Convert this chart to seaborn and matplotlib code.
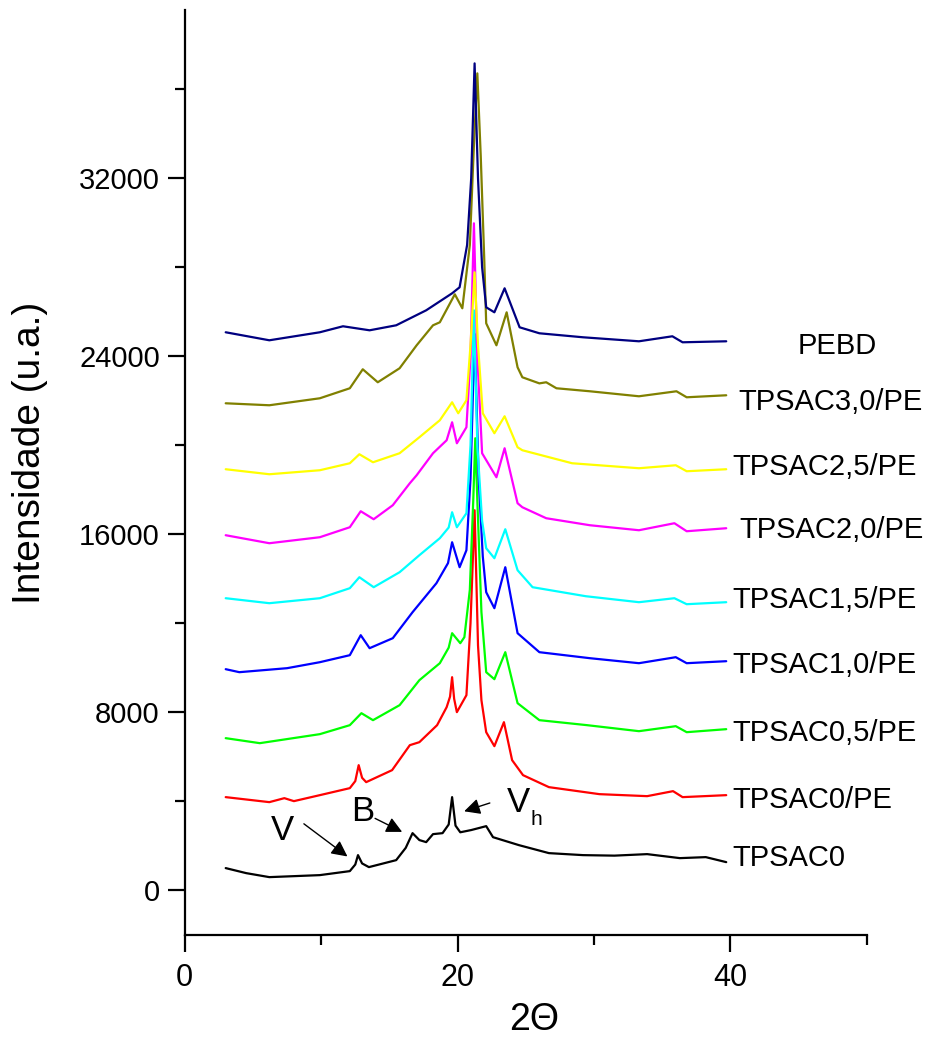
import numpy as np
import pandas as pd
import seaborn as sns
import matplotlib.pyplot as plt

# curves (2-theta, intensity)
tpsac0_x = [3.0, 4.5, 6.2, 9.9, 11.0, 12.1, 12.5, 12.7, 13.0, 13.5, 15.5, 16.2, 16.7, 17.2, 17.7, 18.2, 18.9,
            19.35, 19.6, 19.85, 20.2, 21.0, 22.1, 22.6, 24.5, 26.7, 29.2, 31.5, 33.9, 36.3, 38.2, 39.7]
tpsac0_y = [990, 764, 584, 674, 764, 854, 1150, 1573, 1200, 1034, 1348, 1900, 2561, 2250, 2157, 2517, 2561,
            2950, 4180, 2900, 2600, 2700, 2876, 2380, 2022, 1663, 1573, 1550, 1618, 1438, 1483, 1258]

tpsac0pe_x = [3.0, 6.2, 7.3, 8.0, 9.9, 12.1, 12.5, 12.75, 13.0, 13.3, 15.2, 16.5, 17.2, 18.5, 19.2,
              19.45, 19.6, 19.75, 19.95, 20.65, 20.95, 21.25, 21.5, 21.75, 22.1, 22.7, 23.4, 24.0,
              24.8, 26.7, 30.4, 33.9, 35.8, 36.5, 39.7]
tpsac0pe_y = [4180, 3955, 4134, 4000, 4269, 4584, 4900, 5618, 5050, 4854, 5393, 6516, 6651, 7415, 8224,
              8700, 9572, 8600, 8000, 8763, 12000, 17077, 11000, 8539, 7100, 6471, 7550, 5842,
              5168, 4629, 4314, 4224, 4449, 4180, 4269]

tpsac05_x = [3.0, 5.5, 9.9, 12.1, 12.95, 13.8, 15.75, 17.2, 18.7, 19.35, 19.6, 20.2, 20.5, 20.9,
             21.15, 21.3, 21.45, 21.75, 22.1, 22.7, 23.5, 24.4, 26.0, 29.5, 33.3, 36.0, 36.8, 39.7]
tpsac05_y = [6831, 6606, 7011, 7415, 7954, 7640, 8314, 9437, 10201, 10900, 11550, 11100, 11370, 13500,
             17500, 20313, 17500, 12500, 9797, 9482, 10696, 8404, 7640, 7415, 7145, 7370, 7100, 7235]

tpsac10_x = [3.0, 4.0, 7.5, 9.9, 12.1, 12.9, 13.55, 15.25, 16.7, 18.45, 19.3, 19.6, 20.15, 20.65,
             20.95, 21.25, 21.55, 21.85, 22.1, 22.7, 23.5, 24.4, 26.0, 29.7, 33.3, 36.0, 36.8, 39.7]
tpsac10_y = [9932, 9797, 9977, 10246, 10561, 11460, 10876, 11325, 12493, 13797, 14700, 15639, 14516, 15280,
             18500, 25000, 18500, 15000, 13392, 12673, 14516, 11550, 10696, 10426, 10201, 10471, 10201, 10291]

tpsac15_x = [3.0, 6.2, 9.9, 12.1, 12.8, 13.85, 15.75, 17.2, 18.7, 19.35, 19.6, 19.95, 20.65, 20.95,
             21.2, 21.45, 21.8, 22.1, 22.7, 23.5, 24.4, 25.5, 29.4, 33.3, 35.9, 36.8, 39.7]
tpsac15_y = [13122, 12898, 13122, 13572, 14066, 13617, 14291, 15055, 15819, 16300, 16988, 16313, 16942, 20000,
             26065, 20000, 16600, 15369, 14920, 16223, 14381, 13617, 13212, 12943, 13122, 12853, 12943]

tpsac20_x = [3.0, 6.2, 9.9, 12.1, 12.9, 13.85, 15.25, 16.5, 17.0, 18.2, 19.2, 19.6, 19.95, 20.65,
             20.95, 21.2, 21.45, 21.8, 22.85, 23.45, 24.4, 24.75, 26.5, 29.7, 33.3, 35.9, 36.8, 39.7]
tpsac20_y = [15954, 15594, 15864, 16313, 17032, 16673, 17302, 18291, 18650, 19639, 20223, 21032, 20088, 20807,
             24000, 29975, 24000, 19639, 18560, 19864, 17392, 17212, 16718, 16403, 16178, 16493, 16133, 16268]

tpsac25_x = [3.0, 6.2, 9.9, 12.1, 12.8, 13.8, 15.75, 17.2, 18.7, 19.6, 20.05, 20.65, 20.95, 21.25,
             21.5, 21.85, 22.7, 23.45, 24.4, 24.75, 28.4, 33.3, 36.0, 36.8, 39.7]
tpsac25_y = [18920, 18695, 18875, 19189, 19594, 19234, 19639, 20358, 21122, 21931, 21436, 22021, 24500, 27773,
             24500, 21436, 20538, 21302, 19908, 19774, 19189, 18965, 19099, 18830, 18920]

tpsac30_x = [3.0, 6.2, 9.9, 12.1, 13.05, 14.15, 15.75, 17.0, 18.2, 18.7, 19.8, 20.35, 20.9, 21.2,
             21.45, 21.7, 21.95, 22.1, 22.85, 23.6, 24.4, 24.75, 26.0, 26.5, 27.25, 29.7, 33.3, 36.05, 36.8, 39.7]
tpsac30_y = [21885, 21796, 22110, 22560, 23414, 22830, 23459, 24492, 25391, 25526, 26784, 26155, 29000, 33500,
             36716, 33000, 28500, 25481, 24492, 25975, 23504, 23055, 22780, 22830, 22560, 22425, 22200, 22425, 22155, 22245]

pebd_x = [3.0, 6.2, 9.9, 11.6, 13.55, 15.5, 17.7, 19.6, 20.15, 20.7, 21.0, 21.25, 21.5, 21.8,
          22.1, 22.7, 23.45, 24.55, 26.0, 29.2, 33.3, 35.75, 36.5, 39.7]
pebd_y = [25077, 24717, 25077, 25347, 25166, 25391, 26065, 26829, 27099, 29000, 32000, 37165, 32000, 28000,
          26200, 25975, 27054, 25301, 25032, 24852, 24672, 24897, 24627, 24672]

names = ['TPSAC0', 'TPSAC0/PE', 'TPSAC0,5/PE', 'TPSAC1,0/PE', 'TPSAC1,5/PE',
         'TPSAC2,0/PE', 'TPSAC2,5/PE', 'TPSAC3,0/PE', 'PEBD']
colors = ['black', '#ff0000', '#00ff00', '#0000ff', '#00ffff',
          '#ff00ff', '#ffff00', '#808000', '#000080']
xs = [tpsac0_x, tpsac0pe_x, tpsac05_x, tpsac10_x, tpsac15_x, tpsac20_x, tpsac25_x, tpsac30_x, pebd_x]
ys = [tpsac0_y, tpsac0pe_y, tpsac05_y, tpsac10_y, tpsac15_y, tpsac20_y, tpsac25_y, tpsac30_y, pebd_y]

# label placement (x, y) in data units
label_pos = [(40.15, 1438), (40.15, 4045), (40.15, 7056), (40.15, 10111), (40.15, 13032),
             (40.7, 16178), (40.15, 19010), (40.6, 21931), (44.9, 24447)]

sns.set_style('ticks')
plt.rcParams['font.family'] = ['Liberation Sans', 'DejaVu Sans']
plt.rcParams['text.color'] = 'black'
plt.rcParams['axes.labelcolor'] = 'black'
plt.rcParams['xtick.color'] = 'black'
plt.rcParams['ytick.color'] = 'black'
plt.rcParams['axes.edgecolor'] = 'black'

fig = plt.figure(figsize=(9.38, 10.39), dpi=100)
ax = fig.add_axes([0.197, 0.100, 0.727, 0.890])

for n, c, x, y in zip(names, colors, xs, ys):
    df = pd.DataFrame({'x': x, 'y': y})
    sns.lineplot(data=df, x='x', y='y', color=c, lw=1.6, sort=False, estimator=None, ax=ax)

for n, (lx, ly) in zip(names, label_pos):
    ax.text(lx, ly, n, fontsize=21, va='center', ha='left', color='black')

# annotations
arw = dict(arrowstyle='-|>', color='black', lw=1.0, mutation_scale=24)
ax.annotate('', xy=(12.09, 1438), xytext=(8.57, 3056), arrowprops=arw)
ax.text(7.18, 2696, 'V', fontsize=25, ha='center', va='center', color='black')
ax.annotate('', xy=(16.12, 2562), xytext=(13.77, 3281), arrowprops=arw)
ax.text(13.04, 3550, 'B', fontsize=25, ha='center', va='center', color='black')
ax.annotate('', xy=(20.29, 3505), xytext=(22.56, 3955), arrowprops=arw)
ax.text(24.47, 3955, 'V', fontsize=25, ha='center', va='center', color='black')
ax.text(25.79, 3191, 'h', fontsize=15, ha='center', va='center', color='black')

ax.set_xlim(0, 50)
ax.set_ylim(-2022, 39547)
ax.set_xticks([0, 20, 40])
ax.set_xticks([10, 30, 50], minor=True)
ax.set_yticks([0, 8000, 16000, 24000, 32000])
ax.set_yticks([4000, 12000, 20000, 28000, 36000], minor=True)
ax.tick_params(which='major', length=12, width=1.6, direction='out')
ax.tick_params(which='minor', length=7, width=1.6, direction='out')
ax.tick_params(axis='y', labelsize=21, pad=6)
ax.tick_params(axis='x', labelsize=22, pad=8)
sns.despine(ax=ax)
for s in ['left', 'bottom']:
    ax.spines[s].set_linewidth(1.6)

ax.set_xlabel('2\u0398', fontsize=27)
ax.set_ylabel('Intensidade (u.a.)', fontsize=28)
ax.xaxis.set_label_coords(0.512, -0.072)
ax.yaxis.set_label_coords(-0.20, 0.522)

fig.savefig('out.png', dpi=100)
